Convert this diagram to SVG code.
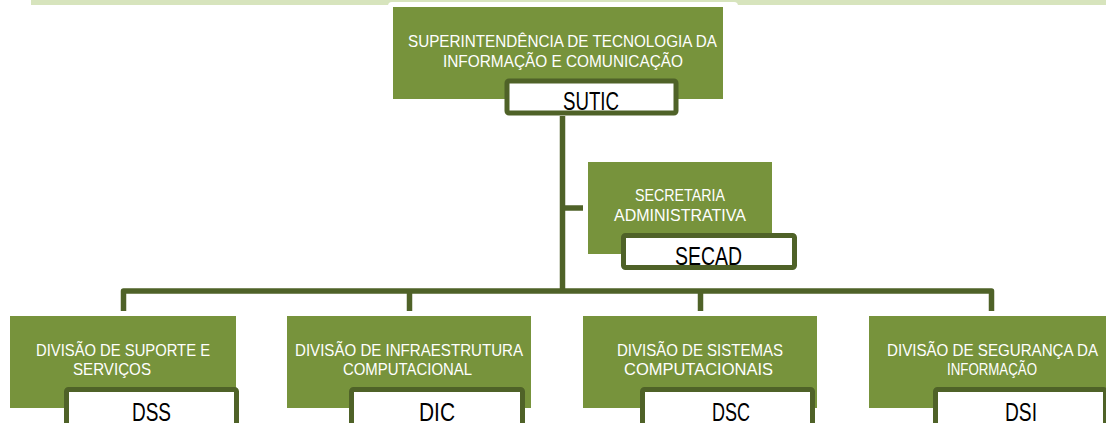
<svg xmlns="http://www.w3.org/2000/svg" width="1106" height="423" viewBox="0 0 1106 423">
<style>
.band{fill:#d7e4bd}
.box{fill:#77933c}
.tag{fill:#ffffff;stroke:#4f6228;stroke-width:5}
.conn{fill:none;stroke:#4f6228;stroke-width:5.5;stroke-linejoin:round;stroke-linecap:butt}
.t{font-family:"Liberation Sans",Arial,sans-serif;font-size:16.5px;fill:#ffffff;text-anchor:middle}
.c{font-family:"Liberation Sans",Arial,sans-serif;font-size:25px;fill:#000000;text-anchor:middle}
</style>
<rect width="1106" height="423" fill="#ffffff"/>
<rect class="band" x="31" y="0" width="1075" height="5"/>
<rect x="388" y="2" width="350" height="20" rx="4" fill="#ffffff"/>

<g id="connectors">
<path class="conn" d="M562.5,116 V291"/>
<path class="conn" d="M562.5,208 H583"/>
<path class="conn" d="M123.5,311 V291 H991.5 V311"/>
<path class="conn" d="M409.5,291 V311"/>
<path class="conn" d="M700.5,291 V311"/>
</g>

<g id="sutic">
<rect class="box" x="393" y="7" width="330" height="92"/>
<text class="t" x="562.5" y="47" textLength="309" lengthAdjust="spacingAndGlyphs">SUPERINTENDÊNCIA DE TECNOLOGIA DA</text>
<text class="t" x="563" y="67" textLength="240" lengthAdjust="spacingAndGlyphs">INFORMAÇÃO E COMUNICAÇÃO</text>
<rect class="tag" x="507" y="81" width="169" height="32" rx="2"/>
<text class="c" x="591" y="110" textLength="56" lengthAdjust="spacingAndGlyphs">SUTIC</text>
</g>

<g id="secad">
<rect class="box" x="588" y="162" width="184" height="92"/>
<text class="t" x="680" y="201" textLength="90" lengthAdjust="spacingAndGlyphs">SECRETARIA</text>
<text class="t" x="680" y="221" textLength="132" lengthAdjust="spacingAndGlyphs">ADMINISTRATIVA</text>
<rect class="tag" x="623.5" y="235.5" width="171" height="32" rx="2"/>
<text class="c" x="708.5" y="265" textLength="67" lengthAdjust="spacingAndGlyphs">SECAD</text>
</g>

<g id="dss">
<rect class="box" x="10" y="316" width="226" height="92"/>
<text class="t" x="123" y="356" textLength="174" lengthAdjust="spacingAndGlyphs">DIVISÃO DE SUPORTE E</text>
<text class="t" x="112" y="375" textLength="78" lengthAdjust="spacingAndGlyphs">SERVIÇOS</text>
<rect class="tag" x="66.5" y="389.5" width="170" height="45" rx="2"/>
<text class="c" x="151.5" y="421" textLength="39" lengthAdjust="spacingAndGlyphs">DSS</text>
</g>

<g id="dic">
<rect class="box" x="287" y="316" width="244" height="92"/>
<text class="t" x="409" y="356" textLength="228" lengthAdjust="spacingAndGlyphs">DIVISÃO DE INFRAESTRUTURA</text>
<text class="t" x="407.5" y="375" textLength="129" lengthAdjust="spacingAndGlyphs">COMPUTACIONAL</text>
<rect class="tag" x="351.5" y="389.5" width="171" height="45" rx="2"/>
<text class="c" x="437" y="421" textLength="36" lengthAdjust="spacingAndGlyphs">DIC</text>
</g>

<g id="dsc">
<rect class="box" x="583" y="316" width="234" height="92"/>
<text class="t" x="700" y="356" textLength="166" lengthAdjust="spacingAndGlyphs">DIVISÃO DE SISTEMAS</text>
<text class="t" x="698.5" y="375" textLength="149" lengthAdjust="spacingAndGlyphs">COMPUTACIONAIS</text>
<rect class="tag" x="642.5" y="389.5" width="170" height="45" rx="2"/>
<text class="c" x="731" y="421" textLength="38" lengthAdjust="spacingAndGlyphs">DSC</text>
</g>

<g id="dsi">
<rect class="box" x="869" y="316" width="246" height="92"/>
<text class="t" x="992.5" y="356" textLength="211" lengthAdjust="spacingAndGlyphs">DIVISÃO DE SEGURANÇA DA</text>
<text class="t" x="992" y="375" textLength="90" lengthAdjust="spacingAndGlyphs">INFORMAÇÃO</text>
<rect class="tag" x="935.5" y="389.5" width="170" height="45" rx="2"/>
<text class="c" x="1021" y="421" textLength="32" lengthAdjust="spacingAndGlyphs">DSI</text>
</g>
</svg>
